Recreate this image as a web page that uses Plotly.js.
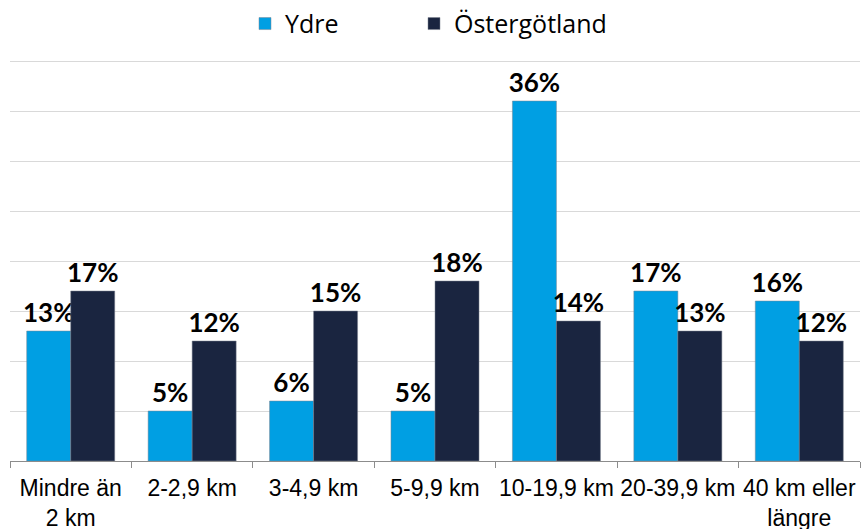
<!DOCTYPE html>
<html>
<head>
<meta charset="utf-8">
<script src="https://cdn.plot.ly/plotly-3.0.1.min.js"></script>
<style>html,body{margin:0;padding:0;background:#fff;}#chart{width:861px;height:529px;}</style>
</head>
<body>
<div id="chart"></div>
<script>
const categories = ["Mindre än<br>2 km", "2-2,9 km", "3-4,9 km", "5-9,9 km", "10-19,9 km", "20-39,9 km", "40 km eller<br>längre"];
const ydre = [13, 5, 6, 5, 36, 17, 16];
const ostergotland = [17, 12, 15, 18, 14, 13, 12];
const seriesNames = ["Ydre", "Östergötland"];
const colors = ["#009FE3", "#1A2540"];

const labelFont = {family: "Lato, 'Open Sans', sans-serif", size: 26, color: "#000", weight: 700};
function mk(name, vals, color, leg) {
  return {
    type: "bar", name: name, x: categories, y: vals, legend: leg,
    marker: {color: color, line: {color: "#7f8590", width: 0.5}},
    text: vals.map(v => v + "%"), textposition: "outside", constraintext: "none",
    textfont: labelFont, cliponaxis: false, hoverinfo: "none"
  };
}
const data = [mk(seriesNames[0], ydre, colors[0], "legend"), mk(seriesNames[1], ostergotland, colors[1], "legend2")];
const legFont = {family: "'Open Sans', 'Noto Sans', sans-serif", size: 25, color: "#000"};
const layout = {
  width: 861, height: 529,
  margin: {l: 10, r: 1, t: 59, b: 68, autoexpand: false},
  paper_bgcolor: "#fff", plot_bgcolor: "#fff",
  barmode: "group", bargap: 0.275, bargroupgap: 0,
  showlegend: true,
  legend: {orientation: "h", x: 245/861, xanchor: "left", xref: "container",
    y: 0.955, yanchor: "middle", yref: "container", font: legFont},
  legend2: {orientation: "h", x: 414/861, xanchor: "left", xref: "container",
    y: 0.955, yanchor: "middle", yref: "container", font: legFont},
  xaxis: {type: "category", tickson: "boundaries", ticks: "outside", ticklen: 6, tickcolor: "#8c8c8c",
    showline: true, linecolor: "#8c8c8c", linewidth: 1, showgrid: false, tickangle: 0,
    ticklabelstandoff: 6, automargin: false,
    tickfont: {family: "'Liberation Sans', Arial, sans-serif", size: 23, color: "#000"}},
  yaxis: {range: [0, 40.2], tickvals: [5, 10, 15, 20, 25, 30, 35, 40], showticklabels: false, showgrid: true, gridcolor: "#d9d9d9",
    gridwidth: 1, zeroline: false, showline: false, ticks: "", automargin: false},
  font: {family: "'Liberation Sans', sans-serif"}
};
Plotly.newPlot("chart", data, layout, {displayModeBar: false, staticPlot: true});
</script>
</body>
</html>
